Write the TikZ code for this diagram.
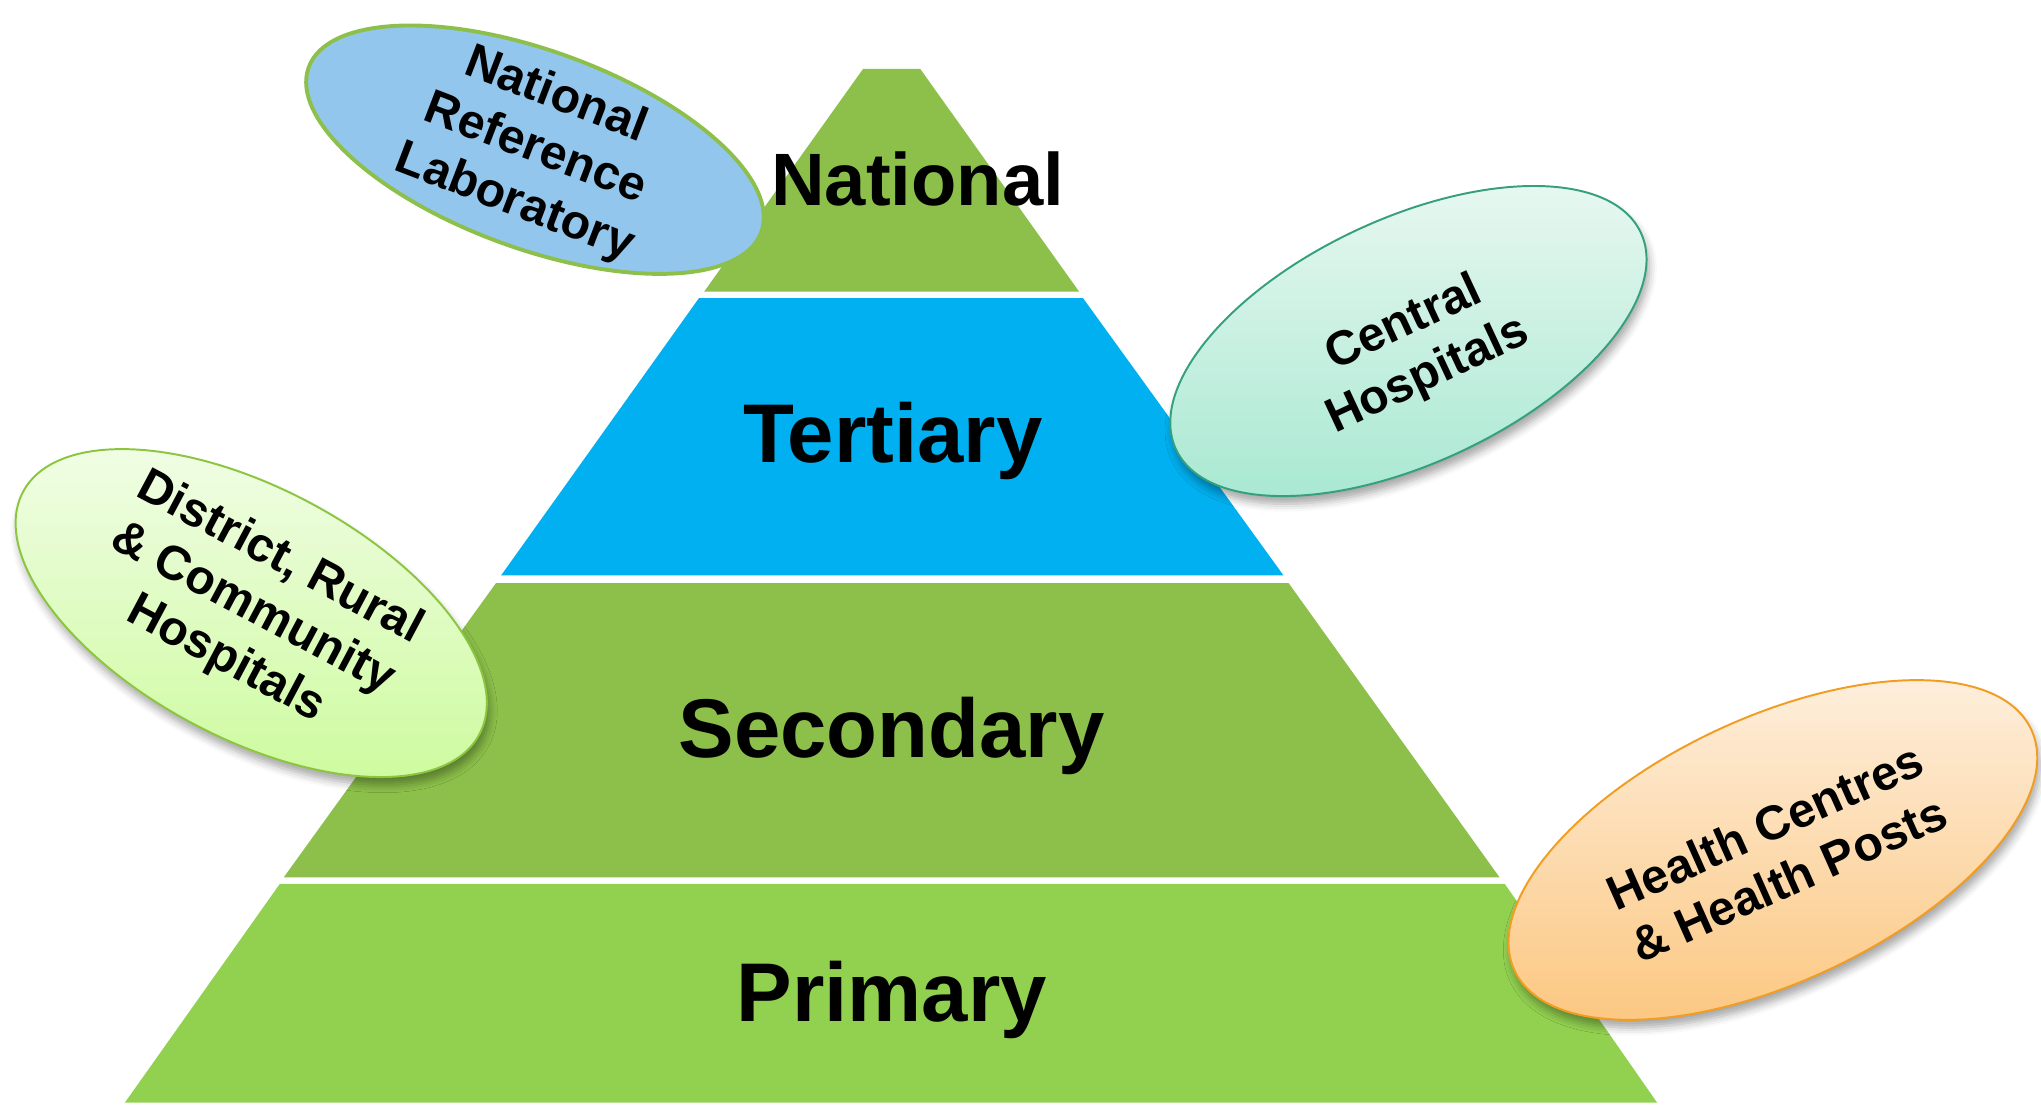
\documentclass[tikz,border=0pt]{standalone}
\usepackage{fontspec}
\setmainfont{Liberation Sans}
\usetikzlibrary{shapes.geometric,shadows.blur}

\definecolor{pyrgreen}{HTML}{8CC04A}
\definecolor{pyrlight}{HTML}{92D050}
\definecolor{pyrblue}{HTML}{00B0F0}
\definecolor{labfill}{HTML}{93C6EC}
\definecolor{cenlight}{HTML}{EAF8F2}
\definecolor{cendark}{HTML}{A6E8D1}
\definecolor{cenedge}{HTML}{35A07E}
\definecolor{dislight}{HTML}{F2FDE8}
\definecolor{disdark}{HTML}{CCFB9C}
\definecolor{disedge}{HTML}{8CC640}
\definecolor{hcplight}{HTML}{FDF0E0}
\definecolor{hcpdark}{HTML}{FCC67E}
\definecolor{hcpedge}{HTML}{F29D22}

\begin{document}
\begin{tikzpicture}[x=1pt,y=-1pt,
  tier/.style={font=\fontsize{64}{70}\selectfont\bfseries, anchor=base, inner sep=0pt},
  bubble/.style={ellipse, inner sep=0pt},
  bubbletext/.style={font=\fontsize{37}{44}\selectfont\bfseries, align=center, inner sep=0pt},
  soft/.style={blur shadow={shadow xshift=2pt, shadow yshift=-6pt, shadow blur radius=6pt, shadow opacity=35}}
]
\useasboundingbox (0,0) rectangle (1568,850);

% pyramid tiers, separated by thin white gaps
\fill[pyrgreen] (663,53) -- (707,53) -- (829,224) -- (541,224) -- cycle;
\fill[pyrblue]  (537,229) -- (832,229) -- (986,442) -- (385,442) -- cycle;
\fill[pyrgreen] (381,448) -- (990,448) -- (1152,674) -- (218,674) -- cycle;
\fill[pyrlight] (215,679) -- (1156,679) -- (1273,847) -- (96,847) -- cycle;

\node[tier, font=\fontsize{57}{64}\selectfont\bfseries] (national) at (705,158) {National};
\node[tier] (tertiary) at (686,355) {Tertiary};
\node[tier] (secondary) at (685,582) {Secondary};
\node[tier] (primary) at (685,785) {Primary};

% facility bubbles
\node[bubble, minimum width=370pt, minimum height=152pt, rotate=-20,
      fill=labfill, draw=pyrgreen, line width=3pt] (lab) at (411,115) {};
\node[bubbletext, rotate=-21] (labtext) at (lab.center) {National\\Reference\\Laboratory};

\node[bubble, soft, minimum width=394pt, minimum height=188pt, rotate=25,
      top color=cenlight, bottom color=cendark, draw=cenedge, line width=1.5pt] (central) at (1082,262) {};
\node[bubbletext, rotate=25] (centraltext) at (1088,269) {Central\\Hospitals};

\node[bubble, soft, minimum width=397pt, minimum height=192pt, rotate=-28,
      top color=dislight, bottom color=disdark, draw=disedge, line width=1.5pt] (district) at (193,471) {};
\node[bubbletext, rotate=-28] (districttext) at (194,468) {District, Rural\\\& Community\\Hospitals};

\node[bubble, soft, minimum width=438pt, minimum height=203pt, rotate=25,
      top color=hcplight, bottom color=hcpdark, draw=hcpedge, line width=1.5pt] (health) at (1362,653) {};
\node[bubbletext, rotate=24] (healthtext) at (1365,655) {Health Centres\\\& Health Posts};
\end{tikzpicture}
\end{document}
